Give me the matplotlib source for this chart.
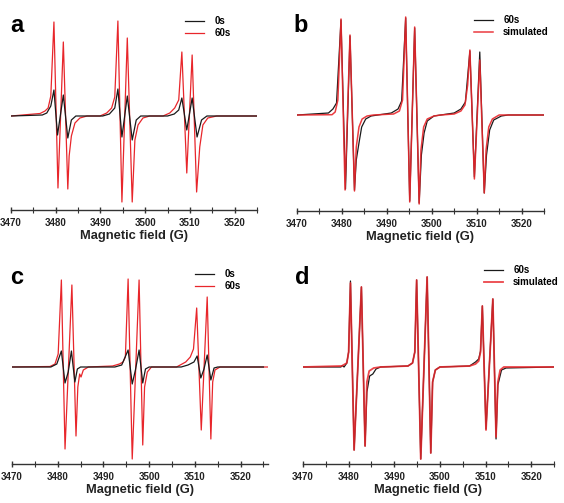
import matplotlib
matplotlib.use("Agg")
import matplotlib.pyplot as plt
from matplotlib.ticker import MultipleLocator

plt.rcParams["font.family"] = ["Liberation Sans", "DejaVu Sans"]
plt.rcParams["font.weight"] = "bold"

# ---- data (signal in arbitrary units, baseline = 0) ----
# panel a
a_0s_field = [3470, 3477.0, 3478.0, 3478.9, 3479.6, 3480.4, 3481.7, 3482.7, 3483.5, 3484.5,
              3490.5, 3492.0, 3493.2, 3493.9, 3494.8, 3496.0, 3497.1, 3498.0, 3499.0,
              3505.0, 3506.5, 3507.5, 3508.2, 3509.3, 3510.5, 3511.6, 3512.6, 3513.8, 3525]
a_0s_signal = [0, 1, 3, 10, 26, -19, 21, -22, -4, 0,
               0, 2, 8, 27, -21, 20, -24, -4, 0,
               0, 2, 6, 18, -14, 18, -21, -4, 0, 0]
a_60s_field = [3470, 3476.5, 3477.6, 3478.3, 3478.9, 3479.6, 3480.5, 3481.7, 3482.7, 3483.0, 3483.5, 3484.3, 3485.4, 3487.0,
               3489.9, 3491.4, 3492.5, 3493.2, 3493.9, 3494.8, 3496.0, 3497.1, 3497.7, 3498.4, 3499.5, 3501.0,
               3504.0, 3505.5, 3506.6, 3507.5, 3508.2, 3509.3, 3510.5, 3511.5, 3512.2, 3512.9, 3514.0, 3516.0, 3525]
a_60s_signal = [0, 2.5, 5, 8, 20, 94, -72, 74, -73, -40, -20, -7, -2, 0,
                0, 3, 8, 19, 95, -86, 78, -86, -24, -9, -2, 0,
                0, 3, 8, 16, 64, -57, 61, -76, -31, -9, -2, 0, 0]

# panel b
b_60s_field = [3470, 3477.0, 3478.0, 3478.8, 3479.8, 3480.8, 3481.8, 3482.8, 3483.2, 3483.8, 3484.4, 3485.3, 3486.5, 3488.0,
               3491.0, 3492.5, 3493.3, 3494.2, 3495.1, 3496.2, 3497.2, 3497.7, 3498.3, 3499.0, 3500.5, 3502.0,
               3505.0, 3506.5, 3507.5, 3508.5, 3509.5, 3510.7, 3511.7, 3512.2, 3512.9, 3513.8, 3515.5, 3517.0, 3525]
b_60s_signal = [0, 2, 6, 12, 95, -74, 79, -75, -45, -28, -12, -4, -1, 0,
                2, 6, 14, 97, -86, 87, -88, -40, -18, -6, -1, 0,
                2, 6, 13, 64, -62, 63, -78, -40, -15, -5, -1, 0, 0]
b_sim_field = [3470, 3477.8, 3478.5, 3479.1, 3479.8, 3480.7, 3481.8, 3482.8, 3483.2, 3483.8, 3484.5, 3485.6, 3487.0,
               3491.5, 3492.8, 3493.5, 3494.2, 3495.1, 3496.2, 3497.2, 3497.6, 3498.2, 3499.0, 3500.5, 3502.0,
               3505.0, 3506.5, 3507.4, 3508.0, 3508.5, 3509.5, 3510.7, 3511.7, 3512.1, 3512.7, 3513.5, 3515.0, 3525]
b_sim_signal = [0, 0.3, 3, 15, 96, -75, 80, -76, -32, -12, -4, -1, 0,
                1, 4, 15, 98, -87, 88, -89, -35, -12, -4, -1, 0,
                1, 4, 10, 30, 65, -64, 55, -78, -35, -12, -4, 0, 0]

# panel c
c_0s_field = [3470, 3478.5, 3479.8, 3480.8, 3481.6, 3482.3, 3483.0, 3483.75, 3484.3, 3485.0,
              3492.5, 3494.0, 3495.4, 3496.3, 3497.0, 3497.8, 3498.6, 3499.2, 3500.0,
              3507.0, 3508.5, 3509.8, 3510.5, 3511.3, 3512.0, 3512.7, 3513.5, 3514.2, 3515.0, 3525]
c_0s_signal = [0, 0, 3, 16, -16, -5, 16, -15, -2, 0,
               0, 2, 17, -17, -3, 17, -16, -2, 0,
               0, 2, 5, 11, -11, -2, 12, -13, -1, 0, 0]
c_60s_field = [3470, 3478.3, 3479.4, 3480.1, 3480.8, 3481.6, 3483.1, 3484.0, 3484.4, 3484.8, 3485.1, 3485.6, 3486.7,
               3492.0, 3493.5, 3494.3, 3494.8, 3495.4, 3496.3, 3497.8, 3498.6, 3499.0, 3499.6, 3500.5,
               3506.0, 3508.0, 3509.0, 3509.7, 3510.4, 3511.4, 3512.7, 3513.5, 3513.9, 3514.4, 3515.5, 3526]
c_60s_signal = [0, 0.5, 3, 13, 87, -82, 82, -69, -20, -7, -10, -3, 0,
                1, 3, 5, 10, 88, -92, 87, -78, -20, -5, 0,
                0, 5, 10, 18, 59, -63, 70, -72, -15, -3, 0, 0]

# panel d
d_60s_field = [3470, 3478.3, 3478.6, 3479.0, 3479.6, 3480.0, 3480.4, 3481.2, 3482.8, 3483.6, 3484.0, 3484.6, 3485.3, 3486.0, 3487.0,
               3493.0, 3494.0, 3494.5, 3494.9, 3495.8, 3497.2, 3498.0, 3498.4, 3499.0, 3500.0,
               3506.5, 3507.8, 3508.5, 3508.9, 3509.3, 3510.1, 3511.6, 3512.3, 3512.7, 3513.5, 3514.5, 3525]
d_60s_signal = [0, 0, 1.5, 0, 4, 15, 86, -83, 80, -79, -25, -9, -7, -2, 0,
                1, 4, 15, 87, -92, 90, -86, -15, -3, 0,
                1, 5, 8, 16, 61, -62, 68, -72, -18, -3, -1, 0]
d_sim_field = [3470, 3478.5, 3479.6, 3480.0, 3480.4, 3481.2, 3482.8, 3483.6, 3484.0, 3484.5, 3485.5, 3487.0,
               3493.0, 3494.0, 3494.5, 3494.9, 3495.8, 3497.2, 3498.0, 3498.4, 3499.0, 3500.0,
               3506.5, 3507.8, 3508.5, 3508.9, 3509.3, 3510.1, 3511.6, 3512.3, 3512.7, 3513.2, 3514.0, 3525]
d_sim_signal = [0, 1, 4, 15, 84, -83, 80, -79, -15, -4, -1, 0,
                1, 4, 15, 87, -92, 90, -86, -15, -3, 0,
                1, 3, 6, 15, 61, -63, 68, -70, -15, -3, 0, 0]

W, H = 564, 503
RED = "#e8262b"
BLACK = "#1a1a1a"

fig = plt.figure(figsize=(W / 100, H / 100), dpi=100)


def add_panel(x0, x1, y_spine, y_top, y_base, xmax=3525):
    ax = fig.add_axes([x0 / W, 1 - y_spine / H, (x1 - x0) / W, (y_spine - y_top) / H])
    ax.set_xlim(3470, xmax)
    ax.set_ylim(-(y_spine - y_base), y_base - y_top)
    for s in ["left", "right", "top"]:
        ax.spines[s].set_visible(False)
    ax.spines["bottom"].set_color("#333333")
    ax.spines["bottom"].set_linewidth(1.0)
    ax.set_yticks([])
    ax.xaxis.set_major_locator(MultipleLocator(10))
    ax.xaxis.set_minor_locator(MultipleLocator(5))
    ax.tick_params(axis="x", which="major", direction="inout", length=5, width=1,
                   labelsize=7, pad=3, colors="#333333", labelcolor="#222222")
    ax.tick_params(axis="x", which="minor", direction="inout", length=4, width=0.8, colors="#333333")
    ax.set_xlabel("Magnetic field (G)", fontsize=9.3, fontweight="bold", labelpad=2, color="#222222")
    ax.patch.set_alpha(0)
    return ax


def add_legend(ax, handles, labels, x, y):
    ax.legend(handles, labels, frameon=False, fontsize=7, loc="upper left",
              bbox_to_anchor=(x / W, 1 - y / H), bbox_transform=fig.transFigure,
              borderpad=0, borderaxespad=0, handlelength=2.0, handletextpad=1.0, labelspacing=0.2)


# a
ax = add_panel(11, 257, 210, 10, 116)
red_line, = ax.plot(a_60s_field, a_60s_signal, color=RED, lw=0.9, zorder=2)
black_line, = ax.plot(a_0s_field, a_0s_signal, color=BLACK, lw=0.9, zorder=3)
add_legend(ax, [black_line, red_line], ["0s", "60s"], 185, 16)
fig.text(10 / W, 1 - 32 / H, "a", fontsize=17, fontweight="bold")

# b
ax = add_panel(297, 544, 211, 10, 115)
black_line, = ax.plot(b_60s_field, b_60s_signal, color=BLACK, lw=0.9, zorder=2)
red_line, = ax.plot(b_sim_field, b_sim_signal, color=RED, lw=1.1, zorder=3, alpha=0.9)
add_legend(ax, [black_line, red_line], ["60s", "simulated"], 474, 15)
fig.text(293 / W, 1 - 32 / H, "b", fontsize=17, fontweight="bold")

# c
ax = add_panel(12, 268, 464, 262, 367, xmax=3526)
red_line, = ax.plot(c_60s_field, c_60s_signal, color=RED, lw=0.9, zorder=2)
black_line, = ax.plot(c_0s_field, c_0s_signal, color=BLACK, lw=0.9, zorder=3)
add_legend(ax, [black_line, red_line], ["0s", "60s"], 195, 269)
fig.text(10 / W, 1 - 284 / H, "c", fontsize=17, fontweight="bold")

# d
ax = add_panel(303, 554, 464, 262, 367)
black_line, = ax.plot(d_60s_field, d_60s_signal, color=BLACK, lw=0.9, zorder=2)
red_line, = ax.plot(d_sim_field, d_sim_signal, color=RED, lw=1.3, zorder=3, alpha=0.85)
add_legend(ax, [black_line, red_line], ["60s", "simulated"], 484, 265)
fig.text(295 / W, 1 - 284 / H, "d", fontsize=17, fontweight="bold")

fig.savefig("out.png", dpi=100)
